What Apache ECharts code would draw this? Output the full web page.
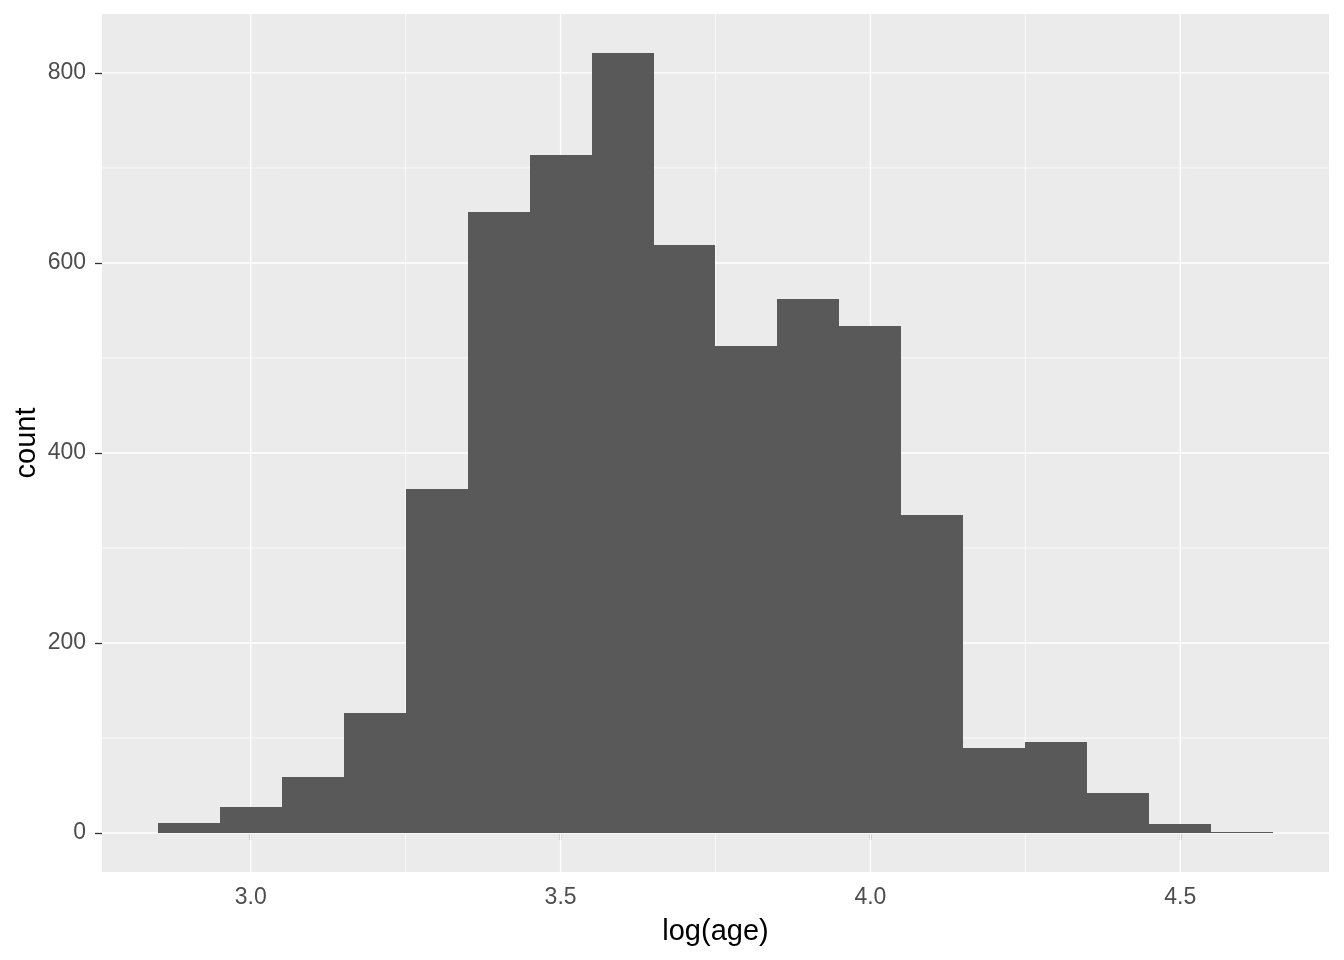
<!DOCTYPE html>
<html>
<head>
<meta charset="utf-8">
<script src="https://cdn.jsdelivr.net/npm/echarts@6/dist/echarts.min.js"></script>
<style>html,body{margin:0;padding:0;background:#fff;}#c{width:1344px;height:960px;}</style>
</head>
<body>
<div id="c"></div>
<script>
// Histogram bins (width 0.1) and counts
const binLeft  = [2.85, 2.95, 3.05, 3.15, 3.25, 3.35, 3.45, 3.55, 3.65, 3.75, 3.85, 3.95, 4.05, 4.15, 4.25, 4.35, 4.45, 4.55];
const binRight = [2.95, 3.05, 3.15, 3.25, 3.35, 3.45, 3.55, 3.65, 3.75, 3.85, 3.95, 4.05, 4.15, 4.25, 4.35, 4.45, 4.55, 4.65];
const counts   = [11, 27, 59, 126, 362, 654, 714, 821, 619, 513, 562, 534, 335, 89, 96, 42, 10, 1];

// Axis ticks and grid breaks
const xTicks = [3.0, 3.5, 4.0, 4.5];
const xMinor = [3.25, 3.75, 4.25];
const yTicks = [0, 200, 400, 600, 800];
const yMinor = [100, 300, 500, 700];

const X_MIN = 2.76, X_MAX = 4.74, Y_MIN = -41, Y_MAX = 862;

const gridData = [];
xMinor.forEach(v => gridData.push(['x', v, 0]));
yMinor.forEach(v => gridData.push(['y', v, 0]));
xTicks.forEach(v => gridData.push(['x', v, 1]));
yTicks.forEach(v => gridData.push(['y', v, 1]));

const barData = binLeft.map((l, i) => [l, binRight[i], counts[i]]);

const chart = echarts.init(document.getElementById('c'), null, {renderer: 'canvas'});
const font = 'Liberation Sans, Arial, sans-serif';

chart.setOption({
  animation: false,
  backgroundColor: '#ffffff',
  grid: {
    left: 102, right: 15, top: 14, bottom: 88,
    show: true, backgroundColor: '#EBEBEB', borderWidth: 0
  },
  xAxis: {
    type: 'value', min: X_MIN, max: X_MAX,
    name: 'log(age)', nameLocation: 'middle', nameGap: 45, nameMoveOverlap: false,
    nameTextStyle: {fontFamily: font, fontSize: 29, color: '#000000'},
    axisLine: {show: false},
    axisTick: {show: true, length: 7, customValues: xTicks, lineStyle: {color: '#333333', width: 1.3}},
    axisLabel: {customValues: xTicks, margin: 14, fontFamily: font, fontSize: 23, color: '#4D4D4D',
      formatter: v => Number(v).toFixed(1)},
    splitLine: {show: false}
  },
  yAxis: {
    type: 'value', min: Y_MIN, max: Y_MAX,
    name: 'count', nameLocation: 'middle', nameGap: 61, nameRotate: 90, nameMoveOverlap: false,
    nameTextStyle: {fontFamily: font, fontSize: 29, color: '#000000'},
    axisLine: {show: false},
    axisTick: {show: true, length: 7, customValues: yTicks, lineStyle: {color: '#333333', width: 1.3}},
    axisLabel: {customValues: yTicks, margin: 16, fontFamily: font, fontSize: 23, color: '#4D4D4D'},
    splitLine: {show: false}
  },
  series: [
    {
      type: 'custom',
      silent: true,
      clip: true,
      data: gridData,
      renderItem: function (params, api) {
        const d = gridData[params.dataIndex];
        const major = d[2] === 1;
        let p1, p2;
        if (d[0] === 'x') {
          p1 = api.coord([d[1], Y_MIN]);
          p2 = api.coord([d[1], Y_MAX]);
        } else {
          p1 = api.coord([X_MIN, d[1]]);
          p2 = api.coord([X_MAX, d[1]]);
        }
        return {
          type: 'line',
          shape: {x1: p1[0], y1: p1[1], x2: p2[0], y2: p2[1]},
          style: {stroke: '#FFFFFF', lineWidth: major ? 1.4 : 0.7}
        };
      }
    },
    {
      type: 'custom',
      silent: true,
      clip: true,
      data: barData,
      encode: {x: [0, 1], y: 2},
      renderItem: function (params, api) {
        const p0 = api.coord([api.value(0), 0]);
        const p1 = api.coord([api.value(1), api.value(2)]);
        const x0 = Math.round(p0[0]), x1 = Math.round(p1[0]);
        const yb = Math.round(p0[1]), yt = Math.round(p1[1]);
        return {
          type: 'rect',
          shape: {x: x0, y: yt, width: x1 - x0, height: Math.max(yb - yt, 1)},
          style: {fill: '#595959'}
        };
      }
    }
  ]
});
</script>
</body>
</html>
